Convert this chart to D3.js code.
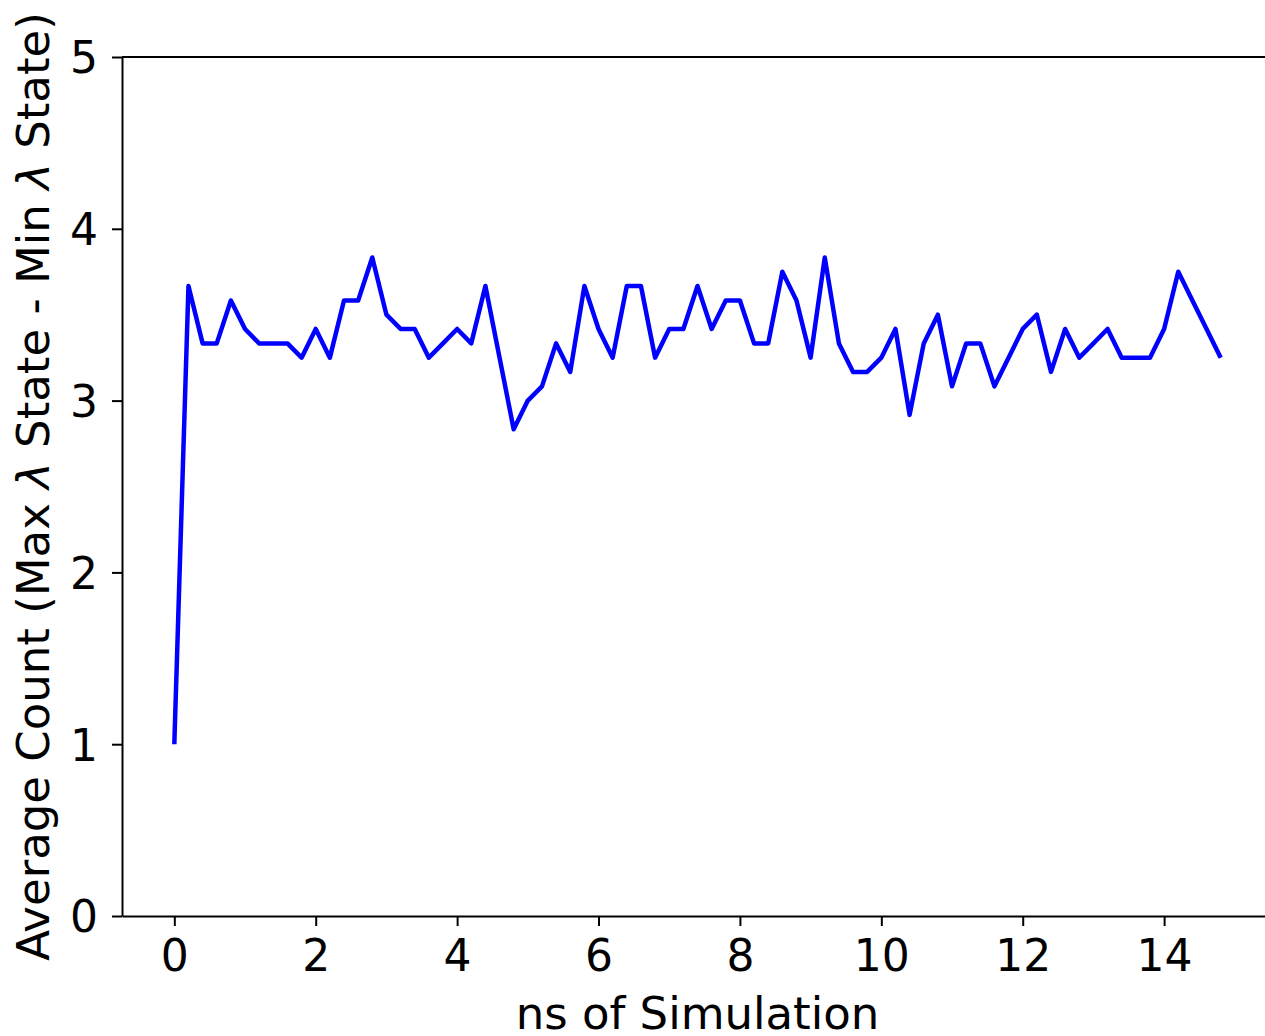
<!DOCTYPE html>
<html lang="en">
<head>
	<meta charset="UTF-8">
	<title>Average Count</title>
	<script src="https://d3js.org/d3.v7.min.js"></script>
</head>
	<style>
		body {margin: 0; background: white;}
		text {font-family: "DejaVu Sans", sans-serif;}
	</style>
<body>
	<div id="myDiv"></div>
</body>
</html>

<script>
	// ns of simulation (one sample every 0.2 ns)
	let times = [0, 0.2, 0.4, 0.6, 0.8, 1.0, 1.2, 1.4, 1.6, 1.8,
		2.0, 2.2, 2.4, 2.6, 2.8, 3.0, 3.2, 3.4, 3.6, 3.8,
		4.0, 4.2, 4.4, 4.6, 4.8, 5.0, 5.2, 5.4, 5.6, 5.8,
		6.0, 6.2, 6.4, 6.6, 6.8, 7.0, 7.2, 7.4, 7.6, 7.8,
		8.0, 8.2, 8.4, 8.6, 8.8, 9.0, 9.2, 9.4, 9.6, 9.8,
		10.0, 10.2, 10.4, 10.6, 10.8, 11.0, 11.2, 11.4, 11.6, 11.8,
		12.0, 12.2, 12.4, 12.6, 12.8, 13.0, 13.2, 13.4, 13.6, 13.8,
		14.0, 14.2, 14.4, 14.6, 14.8];

	// average count (max lambda state - min lambda state)
	let counts = [1.0, 3.667, 3.333, 3.333, 3.583, 3.417, 3.333, 3.333, 3.333, 3.25,
		3.417, 3.25, 3.583, 3.583, 3.833, 3.5, 3.417, 3.417, 3.25, 3.333,
		3.417, 3.333, 3.667, 3.25, 2.833, 3.0, 3.083, 3.333, 3.167, 3.667,
		3.417, 3.25, 3.667, 3.667, 3.25, 3.417, 3.417, 3.667, 3.417, 3.583,
		3.583, 3.333, 3.333, 3.75, 3.583, 3.25, 3.833, 3.333, 3.167, 3.167,
		3.25, 3.417, 2.917, 3.333, 3.5, 3.083, 3.333, 3.333, 3.083, 3.25,
		3.417, 3.5, 3.167, 3.417, 3.25, 3.333, 3.417, 3.25, 3.25, 3.25,
		3.417, 3.75, 3.583, 3.417, 3.25];

	let xTicks = [0, 2, 4, 6, 8, 10, 12, 14];
	let yTicks = [0, 1, 2, 3, 4, 5];

	let data = times.map(function(t, i){
		return {t: t, c: counts[i]};
	});

	let plotLeft = 122, plotRight = 1273, plotTop = 57, plotBottom = 916;

	let svgContainer = d3.select("#myDiv").append("svg")
		.attr("width", 1265)
		.attr("height", 1036);

	let x = d3.scaleLinear().domain([-0.74, 15.54]).range([plotLeft, plotRight]);
	let y = d3.scaleLinear().domain([0, 5]).range([plotBottom, plotTop]);

	//the data line
	let line = d3.line()
		.x(function(d){ return x(d.t); })
		.y(function(d){ return y(d.c); });

	svgContainer.append("path")
		.datum(data)
		.attr("d", line)
		.attr("fill", "none")
		.attr("stroke", "#0000ff")
		.attr("stroke-width", 4.5)
		.attr("stroke-linejoin", "round");

	//axes
	let xAxis = svgContainer.append("g")
		.attr("transform", "translate(0," + plotBottom + ")")
		.call(d3.axisBottom(x).tickValues(xTicks).tickFormat(d3.format("d"))
			.tickSize(10).tickSizeOuter(0).tickPadding(14));

	let yAxis = svgContainer.append("g")
		.attr("transform", "translate(" + plotLeft + ",0)")
		.call(d3.axisLeft(y).tickValues(yTicks).tickFormat(d3.format("d"))
			.tickSize(10).tickSizeOuter(0).tickPadding(14));

	[xAxis, yAxis].forEach(function(g){
		g.selectAll("path, line").attr("stroke", "black").attr("stroke-width", 2);
		g.selectAll("text")
			.attr("font-size", "44px")
			.attr("font-family", "DejaVu Sans")
			.attr("fill", "black");
	});
	yAxis.selectAll("text").attr("dy", "0.36em");

	//top and right spines
	svgContainer.append("line")
		.attr("x1", plotLeft).attr("x2", plotRight)
		.attr("y1", plotTop).attr("y2", plotTop)
		.attr("stroke", "black").attr("stroke-width", 2);
	svgContainer.append("line")
		.attr("x1", plotRight).attr("x2", plotRight)
		.attr("y1", plotTop).attr("y2", plotBottom)
		.attr("stroke", "black").attr("stroke-width", 2);

	//axis labels
	svgContainer.append("text")
		.attr("x", (plotLeft + plotRight) / 2)
		.attr("y", 1029)
		.attr("text-anchor", "middle")
		.attr("font-size", "45px")
		.text("ns of Simulation");

	let yLabel = svgContainer.append("text")
		.attr("transform", "translate(49," + (plotTop + plotBottom) / 2 + ") rotate(-90)")
		.attr("text-anchor", "middle")
		.attr("font-size", "45px");
	yLabel.append("tspan").text("Average Count (Max ");
	yLabel.append("tspan").attr("font-style", "italic").text("\u03BB");
	yLabel.append("tspan").text(" State - Min ");
	yLabel.append("tspan").attr("font-style", "italic").text("\u03BB");
	yLabel.append("tspan").text(" State)");
</script>
